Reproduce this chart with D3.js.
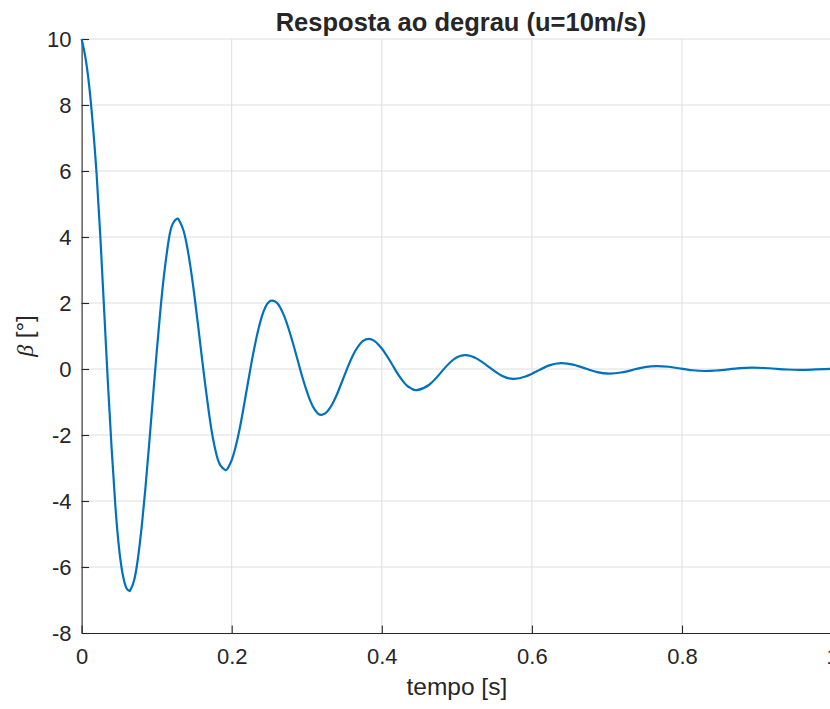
<!DOCTYPE html>
<html>
<head>
<meta charset="utf-8">
<script src="https://cdn.jsdelivr.net/npm/d3@7"></script>
<style>
  body { margin: 0; background: #fff; }
  text { font-family: "Liberation Sans", Arial, Helvetica, sans-serif; fill: #262626; }
</style>
</head>
<body>
<div id="main"></div>
<script>
// values (time in s, beta in degrees)
var tempo = [0, 0.005, 0.010, 0.015, 0.020, 0.025, 0.030, 0.035, 0.040, 0.045, 0.050, 0.055, 0.060, 0.0636,
  0.065, 0.070, 0.075, 0.080, 0.085, 0.090, 0.095, 0.100, 0.105, 0.110, 0.115, 0.120, 0.1267,
  0.130, 0.135, 0.140, 0.145, 0.150, 0.155, 0.160, 0.165, 0.170, 0.175, 0.180, 0.185, 0.1914,
  0.195, 0.200, 0.205, 0.210, 0.215, 0.220, 0.225, 0.230, 0.235, 0.240, 0.245, 0.250, 0.2544,
  0.260, 0.265, 0.270, 0.275, 0.280, 0.285, 0.290, 0.295, 0.300, 0.305, 0.310, 0.315, 0.3196,
  0.325, 0.330, 0.335, 0.340, 0.345, 0.350, 0.355, 0.360, 0.365, 0.370, 0.375, 0.3826,
  0.390, 0.395, 0.400, 0.405, 0.410, 0.415, 0.420, 0.425, 0.430, 0.435, 0.440, 0.4468,
  0.4627, 0.4786, 0.4944, 0.5103,
  0.5266, 0.5429, 0.5592, 0.5755,
  0.5914, 0.6073, 0.6231, 0.639,
  0.655, 0.671, 0.687, 0.703,
  0.7188, 0.7345, 0.7503, 0.766,
  0.782, 0.798, 0.814, 0.830,
  0.8458, 0.8615, 0.8773, 0.893,
  0.909, 0.925, 0.941, 0.957,
  0.973, 0.990, 1.0];
var beta = [10, 9.45, 8.6, 7.4, 5.9, 4.0, 1.8, -0.4, -2.4, -4.15, -5.45, -6.25, -6.65, -6.72,
  -6.70, -6.40, -5.75, -4.80, -3.62, -2.28, -0.88, 0.50, 1.78, 2.88, 3.75, 4.32, 4.55,
  4.50, 4.25, 3.78, 3.10, 2.28, 1.36, 0.40, -0.53, -1.38, -2.10, -2.62, -2.92, -3.06,
  -3.00, -2.76, -2.38, -1.88, -1.28, -0.63, 0.02, 0.62, 1.15, 1.58, 1.88, 2.04, 2.07,
  2.01, 1.85, 1.60, 1.28, 0.91, 0.51, 0.09, -0.31, -0.67, -0.98, -1.21, -1.35, -1.39,
  -1.34, -1.21, -1.02, -0.78, -0.50, -0.21, 0.08, 0.34, 0.56, 0.73, 0.85, 0.91,
  0.85, 0.75, 0.62, 0.46, 0.28, 0.09, -0.10, -0.27, -0.42, -0.53, -0.60, -0.64,
  -0.485, -0.11, 0.265, 0.42,
  0.315, 0.06, -0.195, -0.30,
  -0.23, -0.06, 0.11, 0.18,
  0.133, 0.02, -0.093, -0.14,
  -0.106, -0.025, 0.056, 0.09,
  0.068, 0.015, -0.038, -0.06,
  -0.045, -0.01, 0.025, 0.04,
  0.03, 0.0075, -0.015, -0.025,
  -0.018, -0.004, 0.003];

var xTicks = [0, 0.2, 0.4, 0.6, 0.8, 1];
var yTicks = [-8, -6, -4, -2, 0, 2, 4, 6, 8, 10];

var titulo = "Resposta ao degrau (u=10m/s)";
var xLabel = "tempo [s]";

var width = 830, height = 709;
var svg = d3.select("#main").append("svg")
    .attr("width", width)
    .attr("height", height);

var x = d3.scaleLinear().domain([0, 1]).range([81.6, 832.1]);
var y = d3.scaleLinear().domain([-8, 10]).range([633, 39]);

// plain hyphen for negatives, like the original
var fmt = d => String(d);

// grid
var grid = svg.append("g").attr("class", "grid");
grid.selectAll(".vgrid").data(xTicks.filter(d => d > 0))
  .enter().append("line")
    .attr("x1", d => x(d)).attr("x2", d => x(d))
    .attr("y1", y(-8)).attr("y2", y(10))
    .attr("stroke", "#dedede").attr("stroke-width", 1);
grid.selectAll(".hgrid").data(yTicks.filter(d => d > -8))
  .enter().append("line")
    .attr("x1", x(0)).attr("x2", width)
    .attr("y1", d => y(d)).attr("y2", d => y(d))
    .attr("stroke", "#dedede").attr("stroke-width", 1);

// axes with inward ticks
var xAxis = svg.append("g")
    .attr("transform", "translate(0," + y(-8) + ")")
    .call(d3.axisBottom(x).tickValues(xTicks).tickFormat(fmt).tickSizeInner(-7.5).tickSizeOuter(0).tickPadding(15));
var yAxis = svg.append("g")
    .attr("transform", "translate(" + x(0) + ",0)")
    .call(d3.axisLeft(y).tickValues(yTicks).tickFormat(fmt).tickSizeInner(-7.5).tickSizeOuter(0).tickPadding(10));

[xAxis, yAxis].forEach(function(a){
  a.select(".domain").attr("stroke", "#262626").attr("stroke-width", 1.1);
  a.selectAll(".tick line").attr("stroke", "#262626").attr("stroke-width", 1.1);
  a.selectAll(".tick text").style("font-size", "22px").attr("fill", "#262626")
    .style("font-family", "'Liberation Sans', Arial, sans-serif");
});
xAxis.selectAll(".tick text").attr("dy", "0.71em");
yAxis.selectAll(".tick text").attr("dy", "0.35em");

// curve
var pts = tempo.map((t, i) => [t, beta[i]]);
svg.append("path")
    .datum(pts)
    .attr("fill", "none")
    .attr("stroke", "#0072BD")
    .attr("stroke-width", 2.2)
    .attr("stroke-linejoin", "round")
    .attr("d", d3.line().x(d => x(d[0])).y(d => y(d[1])).curve(d3.curveNatural));

// title and labels
svg.append("text")
    .attr("x", 461).attr("y", 31)
    .attr("text-anchor", "middle")
    .style("font-size", "25.5px").style("font-weight", "bold")
    .attr("fill", "#000")
    .text(titulo);

svg.append("text")
    .attr("x", (x(0) + x(1)) / 2).attr("y", 695)
    .attr("text-anchor", "middle")
    .style("font-size", "24.5px")
    .text(xLabel);

var yl = svg.append("text")
    .attr("transform", "translate(33," + (y(-8) + y(10)) / 2 + ") rotate(-90)")
    .attr("text-anchor", "middle")
    .style("font-size", "24px");
yl.append("tspan").style("font-family", "'Liberation Serif', 'DejaVu Serif', serif").style("font-style", "italic").text("β");
yl.append("tspan").text(" [°]");
</script>
</body>
</html>
